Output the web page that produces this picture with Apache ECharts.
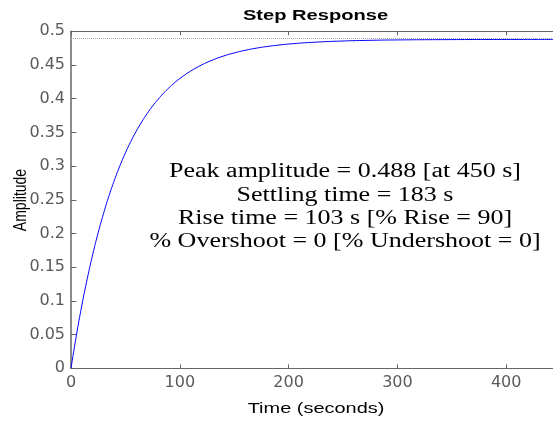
<!DOCTYPE html>
<html>
<head>
<meta charset="utf-8">
<script src="https://cdn.jsdelivr.net/npm/echarts@6/dist/echarts.min.js"></script>
<style>
html,body{margin:0;padding:0;background:#fff;}
#c{width:553px;height:421px;}
</style>
</head>
<body>
<div id="c"></div>
<script>
// Data
var timeSec = [0,5,10,15,20,25,30,35,40,45,50,55,60,65,70,75,80,85,90,95,100,110,120,130,140,150,160,170,180,190,200,225,250,275,300,350,400,443];
var amplitude = [0,0.0493,0.0935,0.1333,0.1691,0.2013,0.2302,0.2563,0.2796,0.3007,0.3196,0.3366,0.3519,0.3656,0.3780,0.3891,0.3990,0.4080,0.4161,0.4234,0.4299,0.4410,0.4500,0.4573,0.4632,0.4679,0.4718,0.4749,0.4774,0.4794,0.4811,0.4839,0.4856,0.4866,0.4872,0.4877,0.4879,0.4880];
var steadyState = 0.488;
var xTicks = [0,100,200,300,400];
var yTicks = [0,0.05,0.1,0.15,0.2,0.25,0.3,0.35,0.4,0.45,0.5];
var titleText = 'Step Response';
var xTitle = 'Time (seconds)';
var yTitle = 'Amplitude';
var infoLines = [
  'Peak amplitude = 0.488 [at 450 s]',
  'Settling time = 183 s',
  'Rise time = 103 s [% Rise = 90]',
  '% Overshoot = 0 [% Undershoot = 0]'
];

var chart = echarts.init(document.getElementById('c'), null, {renderer:'canvas'});
var pts = timeSec.map(function(t,i){return [t, amplitude[i]];});
var labelColor = '#5a5a5a';
var axisColor = '#666666';

chart.setOption({
  animation:false,
  backgroundColor:'#ffffff',
  grid:{left:71, right:0, top:31.3, bottom:52.7, containLabel:false},
  xAxis:[{
    type:'value', position:'bottom', min:0, max:443, interval:100,
    axisLine:{show:true, lineStyle:{color:axisColor, width:1}},
    axisTick:{show:true, inside:true, length:4, lineStyle:{color:axisColor}},
    axisLabel:{show:true, margin:7, color:labelColor, fontFamily:'DejaVu Sans', fontSize:16,
      formatter:function(v){return xTicks.indexOf(v)>=0 ? String(v) : '';}, showMaxLabel:false},
    splitLine:{show:false}
  },{
    type:'value', position:'top', min:0, max:443, interval:100,
    axisLine:{show:true, onZero:false, lineStyle:{color:axisColor, width:1}},
    axisTick:{show:true, inside:true, length:4, lineStyle:{color:axisColor}},
    axisLabel:{show:false},
    splitLine:{show:false}
  }],
  yAxis:[{
    type:'value', min:0, max:0.5, interval:0.05,
    axisLine:{show:true, lineStyle:{color:axisColor, width:1.5}},
    axisTick:{show:true, inside:true, length:5.5, lineStyle:{color:axisColor}},
    axisLabel:{show:true, margin:6, color:labelColor, fontFamily:'DejaVu Sans', fontSize:16,
      formatter:function(v){
        for (var i=0;i<yTicks.length;i++){ if (Math.abs(yTicks[i]-v)<1e-9) return String(yTicks[i]); }
        return '';
      }},
    splitLine:{show:false}
  }],
  series:[{
    type:'line', data:pts, xAxisIndex:0, yAxisIndex:0,
    showSymbol:false, smooth:true,
    lineStyle:{color:'#0000ff', width:1},
    markLine:{
      silent:true, symbol:'none', label:{show:false},
      lineStyle:{color:'#a8a8a8', type:'dotted', width:1},
      data:[{yAxis:steadyState}]
    }
  }],
  graphic:[
    {type:'text', x:315.5, y:16, scaleX:1.34, silent:true,
     style:{text:titleText, x:0, y:0, align:'center', verticalAlign:'middle',
            font:'bold 15px "Liberation Sans"', fill:'#000'}},
    {type:'text', x:316, y:409, scaleX:1.33, silent:true,
     style:{text:xTitle, x:0, y:0, align:'center', verticalAlign:'middle',
            font:'15px "Liberation Sans"', fill:'#000'}},
    {type:'text', x:21, y:200, rotation:Math.PI/2, scaleY:1.3, silent:true,
     style:{text:yTitle, x:0, y:0, align:'center', verticalAlign:'middle',
            font:'14px "Liberation Sans"', fill:'#000'}},
    {type:'text', x:345, y:207, scaleX:1.3, silent:true,
     style:{text:infoLines.join('\n'), x:0, y:0, align:'center', verticalAlign:'middle',
            font:'20px "Liberation Serif"', lineHeight:23.3, fill:'#000'}}
  ]
});
</script>
</body>
</html>
